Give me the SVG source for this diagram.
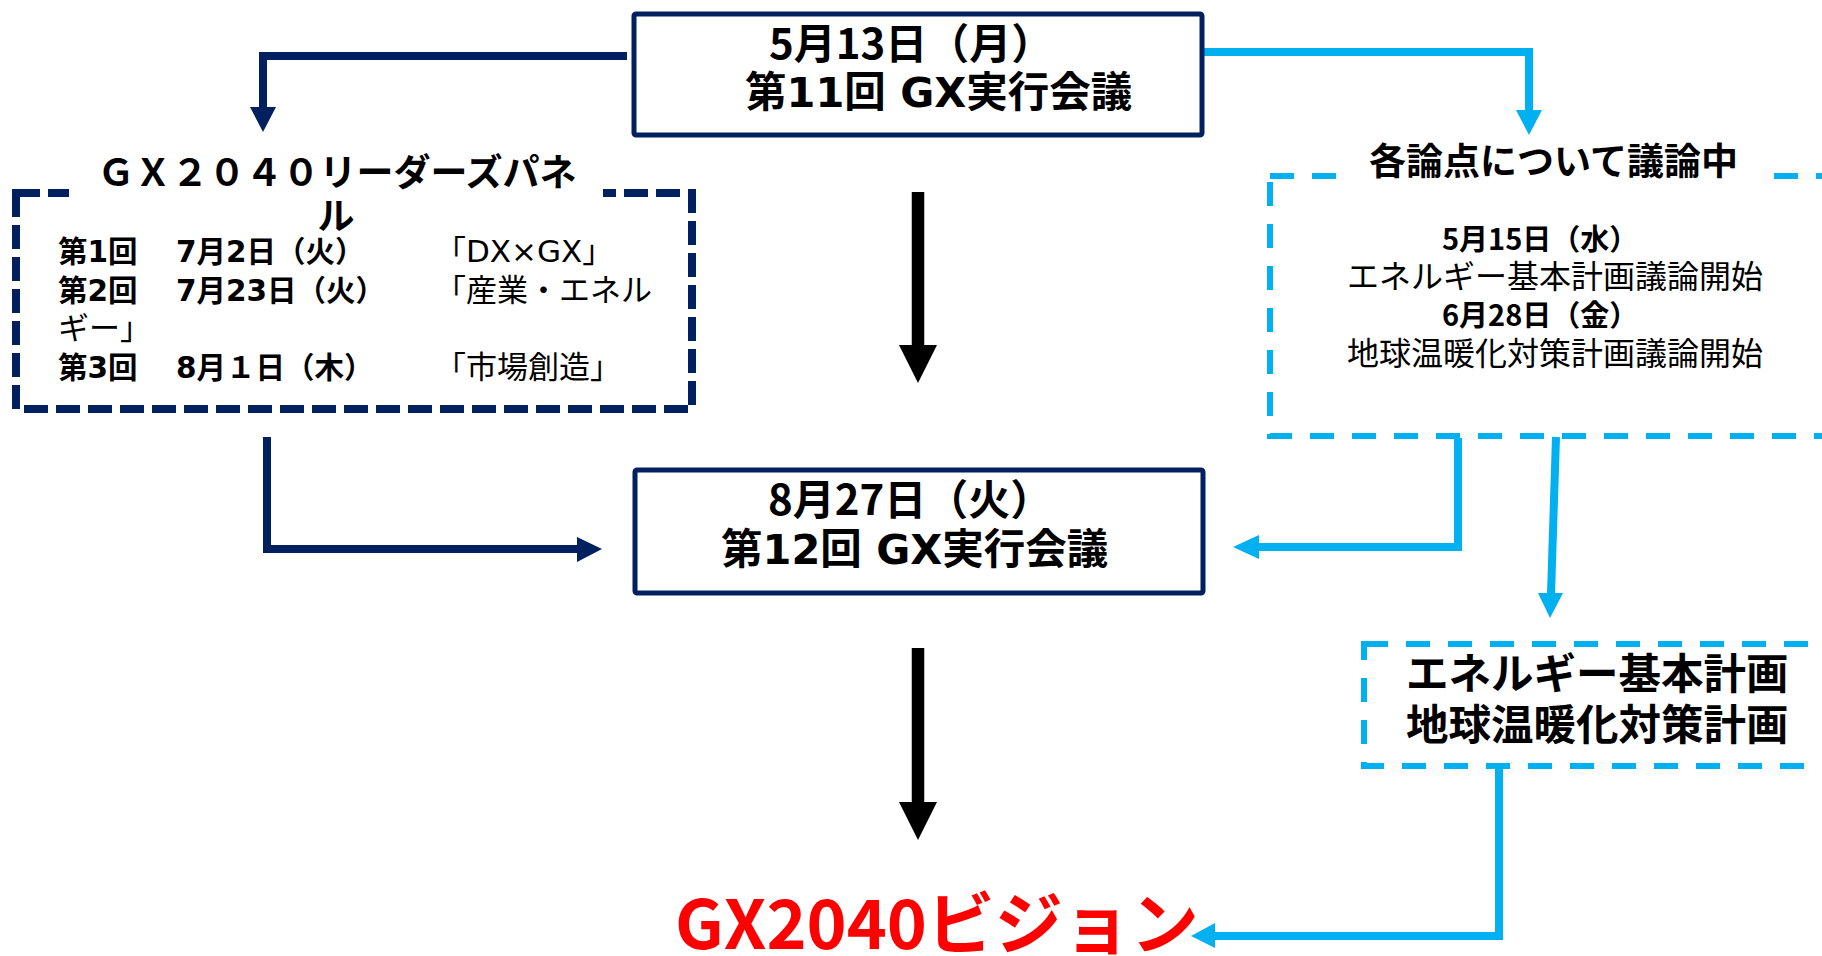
<svg xmlns="http://www.w3.org/2000/svg" width="1822" height="956" viewBox="0 0 1822 956">
<style>
.b{font-family:"Noto Sans CJK JP","Noto Sans CJK SC",sans-serif;font-weight:700;fill:#000}
.bd{font-family:"DejaVu Sans","Noto Sans CJK JP","Noto Sans CJK SC",sans-serif;font-weight:700;fill:#000}
.r{font-family:"DejaVu Sans","Noto Sans CJK JP","Noto Sans CJK SC",sans-serif;font-weight:400;fill:#000}
.solid{fill:#fff;stroke:#002060;stroke-width:5}
.dnavy{fill:none;stroke:#002060;stroke-width:8;stroke-dasharray:24 8}
.dcyan{fill:none;stroke:#00B0F0;stroke-width:6;stroke-dasharray:24 18}
.navy{fill:none;stroke:#002060;stroke-width:8}
.cyan{fill:none;stroke:#00B0F0;stroke-width:8}
.blk{fill:none;stroke:#000;stroke-width:12.5}
.hn{fill:#002060}.hc{fill:#00B0F0}.hb{fill:#000}
</style>
<rect width="1822" height="956" fill="#fff"/>
<g id="connectors">
  <path class="navy" d="M627 56H263V108"/>
  <polygon class="hn" points="250,107 276,107 263,132"/>
  <path class="cyan" d="M1204 52H1529V111"/>
  <polygon class="hc" points="1516,110 1542,110 1529,135"/>
  <path class="blk" d="M918 192V346"/>
  <polygon class="hb" points="899,345 937,345 918,383"/>
  <path class="blk" d="M918 648V803"/>
  <polygon class="hb" points="899,802 937,802 918,840"/>
  <path class="navy" d="M267 437V549H578"/>
  <polygon class="hn" points="577,537 577,562 602,549"/>
  <path class="cyan" d="M1458 438V547H1258"/>
  <polygon class="hc" points="1259,535 1259,559 1233,547"/>
  <path class="cyan" d="M1556 437L1551 594"/>
  <polygon class="hc" points="1538,593 1563,593 1550,618"/>
  <path class="cyan" d="M1499 767V936H1214"/>
  <polygon class="hc" points="1215,923 1215,948 1191,936"/>
</g>
<g id="node-gx11">
  <rect class="solid" x="634" y="14" width="568" height="121" rx="2"/>
  <text class="b" font-size="42" x="769" y="59">5月13日（月）</text>
  <text class="bd" font-size="41.5" x="745" y="107">第11回 GX実行会議</text>
</g>
<g id="node-panel">
  <rect class="dnavy" x="16" y="193" width="676" height="216"/>
  <rect x="69" y="182" width="534" height="20" fill="#fff"/>
  <text class="b" font-size="37" text-anchor="middle"><tspan x="337" y="186">ＧＸ２０４０リーダーズパネ</tspan><tspan x="336" y="230">ル</tspan></text>
  <text class="bd" font-size="29.5" x="58" y="262">第1回<tspan x="176">7月2日（火）</tspan></text>
  <text class="r" font-size="31" x="435" y="262">「DX×GX」</text>
  <text class="bd" font-size="29.5" x="58" y="301">第2回<tspan x="176">7月23日（火）</tspan></text>
  <text class="r" font-size="31"><tspan x="435" y="301">「産業・エネル</tspan><tspan x="58" y="339">ギー」</tspan></text>
  <text class="bd" font-size="29.5" x="58" y="378">第3回<tspan x="176">8月１日（木）</tspan></text>
  <text class="r" font-size="31" x="435" y="378">「市場創造」</text>
</g>
<g id="node-discussion">
  <rect class="dcyan" x="1270" y="176" width="700" height="260"/>
  <rect x="1343" y="166" width="421" height="20" fill="#fff"/>
  <text class="b" font-size="37" x="1369" y="175">各論点について議論中</text>
  <text class="b" font-size="29" x="1442" y="250">5月15日（水）</text>
  <text class="r" font-size="32" x="1347" y="288">エネルギー基本計画議論開始</text>
  <text class="b" font-size="29" x="1442" y="326">6月28日（金）</text>
  <text class="r" font-size="32" x="1347" y="365">地球温暖化対策計画議論開始</text>
</g>
<g id="node-gx12">
  <rect class="solid" x="635" y="470" width="568" height="123" rx="2"/>
  <text class="b" font-size="42" x="768" y="515">8月27日（火）</text>
  <text class="bd" font-size="41.5" x="721" y="564">第12回 GX実行会議</text>
</g>
<g id="node-plans">
  <rect class="dcyan" x="1364" y="644" width="600" height="122"/>
  <text class="b" font-size="42.5" x="1406" y="689">エネルギー基本計画</text>
  <text class="b" font-size="42.5" x="1406" y="740">地球温暖化対策計画</text>
</g>
<g id="node-vision">
  <text class="b" font-size="68" x="675" y="949" style="fill:#FF0000">GX2040ビジョン</text>
</g>
</svg>
